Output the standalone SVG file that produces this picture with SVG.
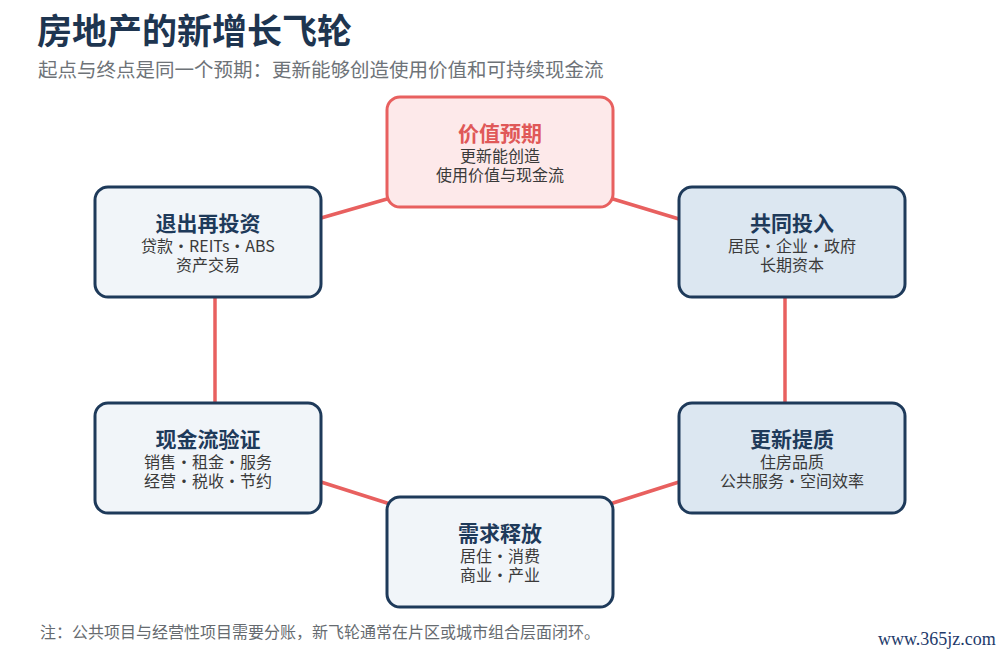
<svg xmlns="http://www.w3.org/2000/svg" width="1000" height="655" viewBox="0 0 1000 655">
<style>
text{font-family:"Noto Sans CJK SC","Noto Sans",sans-serif;}
.bg{fill:#ffffff;}
.title{font-size:35px;font-weight:700;fill:#1e3550;}
.subtitle{font-size:19.5px;fill:#6e7378;}
.note{font-size:16px;fill:#666b70;}
.wm{font-family:"Liberation Serif",serif;font-size:18px;fill:#1e3a6a;}
.box{stroke:#1e3a5a;stroke-width:3;}
.light{fill:#f1f5f9;}
.blue{fill:#dce7f1;}
.hot{fill:#fde9ea;stroke:#e8605f;stroke-width:3;}
.nt{font-size:21px;font-weight:700;fill:#1e3a5a;text-anchor:middle;}
.nt.red{fill:#e05858;}
.ns{font-size:16px;fill:#3a3a3a;text-anchor:middle;}
.conn line{stroke:#e8605f;stroke-width:3.5;stroke-linecap:round;}
</style>
<rect class="bg" x="0" y="0" width="1000" height="655"/>
<text class="title" x="37" y="44">房地产的新增长飞轮</text>
<text class="subtitle" x="38" y="77">起点与终点是同一个预期：更新能够创造使用价值和可持续现金流</text>

<g id="connectors" class="conn">
<line x1="321" y1="218" x2="387" y2="199"/>
<line x1="613" y1="199" x2="679" y2="219"/>
<line x1="785" y1="297" x2="785" y2="403"/>
<line x1="679" y1="482" x2="613" y2="503"/>
<line x1="387" y1="503" x2="321" y2="482"/>
<line x1="215" y1="403" x2="215" y2="297"/>
</g>

<g id="node-value">
<rect class="hot" x="387" y="97" width="226" height="110" rx="13"/>
<text class="nt red" x="500" y="141">价值预期</text>
<text class="ns" x="500" y="162">更新能创造</text>
<text class="ns" x="500" y="181">使用价值与现金流</text>
</g>

<g id="node-invest">
<rect class="box blue" x="679" y="187" width="226" height="110" rx="13"/>
<text class="nt" x="792" y="231">共同投入</text>
<text class="ns" x="792" y="252">居民•企业•政府</text>
<text class="ns" x="792" y="271">长期资本</text>
</g>

<g id="node-upgrade">
<rect class="box blue" x="679" y="403" width="226" height="110" rx="13"/>
<text class="nt" x="792" y="447">更新提质</text>
<text class="ns" x="792" y="468">住房品质</text>
<text class="ns" x="792" y="487">公共服务•空间效率</text>
</g>

<g id="node-demand">
<rect class="box light" x="387" y="497" width="226" height="110" rx="13"/>
<text class="nt" x="500" y="541">需求释放</text>
<text class="ns" x="500" y="562">居住•消费</text>
<text class="ns" x="500" y="581">商业•产业</text>
</g>

<g id="node-cashflow">
<rect class="box light" x="95" y="403" width="226" height="110" rx="13"/>
<text class="nt" x="208" y="447">现金流验证</text>
<text class="ns" x="208" y="468">销售•租金•服务</text>
<text class="ns" x="208" y="487">经营•税收•节约</text>
</g>

<g id="node-exit">
<rect class="box light" x="95" y="187" width="226" height="110" rx="13"/>
<text class="nt" x="208" y="231">退出再投资</text>
<text class="ns" x="208" y="252">贷款•REITs•ABS</text>
<text class="ns" x="208" y="271">资产交易</text>
</g>

<text class="note" x="40" y="638">注：公共项目与经营性项目需要分账，新飞轮通常在片区或城市组合层面闭环。</text>
<text class="wm" x="878" y="645">www.365jz.com</text>
</svg>
